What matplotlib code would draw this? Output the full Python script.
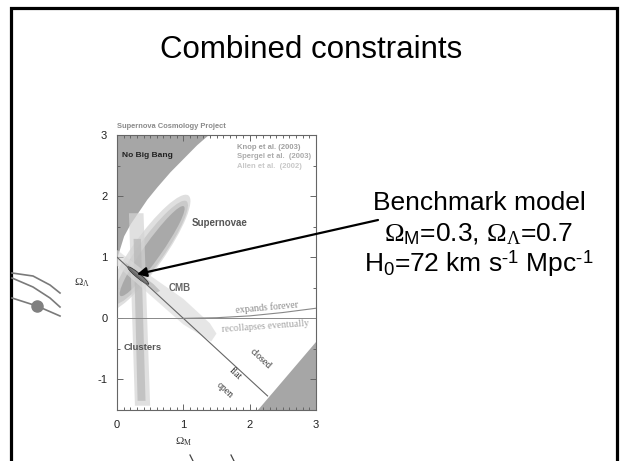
import matplotlib
matplotlib.use("Agg")
import matplotlib.pyplot as plt
from matplotlib.patches import Ellipse, Polygon
from matplotlib.ticker import MultipleLocator

plt.rcParams['font.family'] = ['Liberation Sans', 'DejaVu Sans']
plt.rcParams['mathtext.fontset'] = 'custom'
plt.rcParams['mathtext.rm'] = 'Liberation Serif'
plt.rcParams['mathtext.it'] = 'Liberation Serif:italic'
plt.rcParams['mathtext.sf'] = 'Liberation Sans'

# ---------------- data ----------------
x_ticks = [0, 1, 2, 3]
y_ticks = [-1, 0, 1, 2, 3]
y_tick_labels = ['-1', '0', '1', '2', '3']

# "No Big Bang" boundary
nbb_om = [0.0, 0.1, 0.2, 0.3, 0.45, 0.6, 0.8, 1.0, 1.2, 1.37]
nbb_ol = [1.0, 1.35, 1.55, 1.71, 1.95, 2.15, 2.4, 2.62, 2.84, 3.0]

# bottom-right shaded triangle
tri_om = [2.12, 3.0, 3.0]
tri_ol = [-1.5, -1.5, -0.38]

# flat universe line
flat_om = [0.0, 2.27]
flat_ol = [1.0, -1.27]

# expands forever / recollapses line
exp_om = [1.0, 1.5, 2.0, 2.5, 3.0]
exp_ol = [0.0, 0.01, 0.04, 0.095, 0.165]

# Supernovae confidence ellipses: (center_om, center_ol, length, width, angle, colour)
sn_ellipses = [
    (0.46, 1.07, 2.25, 0.50, 57, '#dcdcdc'),
    (0.50, 1.08, 2.00, 0.40, 57, '#c8c8c8'),
    (0.53, 1.10, 1.75, 0.27, 57, '#a6a6a6'),
]

# Clusters band
cl_outer_om = [0.18, 0.40, 0.50, 0.27]
cl_outer_ol = [1.72, 1.72, -1.43, -1.43]
cl_inner_om = [0.25, 0.36, 0.43, 0.31]
cl_inner_ol = [1.30, 1.30, -1.35, -1.35]

# CMB band
cmb_om = [0.0, 0.5, 1.0, 1.4, 1.5, 1.42, 1.0, 0.5, 0.0]
cmb_ol = [1.12, 0.70, 0.32, -0.08, -0.25, -0.38, -0.10, 0.38, 0.86]
cmb_in_om = [0.12, 0.55, 0.65, 0.60, 0.18]
cmb_in_ol = [0.92, 0.56, 0.45, 0.42, 0.80]

# Combined constraint
comb = (0.32, 0.70, 0.42, 0.07, -42)

# benchmark model (arrow target)
bench_om = 0.3
bench_ol = 0.72

# decorations of the slide (pixel coordinates)
border_x = [11, 11, 617, 617]
border_y = [461, 8, 8, 461]
deco_lines = [
    ([12, 33, 50, 60], [273, 276, 285, 293]),
    ([12, 33, 50, 60], [278, 287, 298, 307]),
    ([12, 37, 60], [298, 306, 316]),
]
deco_dot = (37, 306)
deco_marks = [([190, 193], [455, 461]), ([231, 234], [455, 461])]

# ---------------- figure ----------------
W, H = 623, 461
fig = plt.figure(figsize=(W / 100, H / 100), dpi=100)

# overlay in pixel coordinates for the slide
ov = fig.add_axes([0, 0, 1, 1])
ov.set_xlim(0, W)
ov.set_ylim(H, 0)
ov.axis('off')
ov.plot(border_x, border_y, color='black', lw=2.3, solid_joinstyle='miter')
for xs, ys in deco_lines:
    ov.plot(xs, ys, color='#7a7a7a', lw=1.2)
ov.plot([deco_dot[0]], [deco_dot[1]], 'o', color='#808080', ms=8)
for xs, ys in deco_marks:
    ov.plot(xs, ys, color='#444444', lw=0.9)

fig.text(311 / W, 1 - 58 / H, 'Combined constraints', ha='center', va='baseline',
         fontsize=22.5, color='black')

# inner chart
ax = fig.add_axes([117 / W, (H - 410) / H, 199 / W, 275 / H])
ax.set_xlim(0, 3)
ax.set_ylim(-1.5, 3)

ax.fill_between(nbb_om, nbb_ol, 3, color='#a6a6a6', lw=0, zorder=1)
ax.fill(tri_om, tri_ol, color='#a6a6a6', lw=0, zorder=1)

for cx, cy, L, Wd, ang, col in sn_ellipses:
    ax.add_patch(Ellipse((cx, cy), L, Wd, angle=ang, facecolor=col, edgecolor='none',
                         alpha=0.9, zorder=2))
ax.add_patch(Polygon(list(zip(cl_outer_om, cl_outer_ol)), closed=True,
                     facecolor='#d4d4d4', edgecolor='none', alpha=0.7, zorder=3))
ax.add_patch(Polygon(list(zip(cl_inner_om, cl_inner_ol)), closed=True,
                     facecolor='#b8b8b8', edgecolor='none', alpha=0.7, zorder=3))
ax.add_patch(Polygon(list(zip(cmb_om, cmb_ol)), closed=True,
                     facecolor='#dadada', edgecolor='none', alpha=0.65, zorder=4))
ax.add_patch(Polygon(list(zip(cmb_in_om, cmb_in_ol)), closed=True,
                     facecolor='#b8b8b8', edgecolor='none', alpha=0.75, zorder=4))
ax.add_patch(Ellipse((comb[0], comb[1]), comb[2], comb[3], angle=comb[4],
                     facecolor='#7a7a7a', edgecolor='#333333', lw=0.6, zorder=5))

ax.axhline(0, color='#888888', lw=0.7, zorder=5)
ax.plot(flat_om, flat_ol, color='#666666', lw=0.8, zorder=5)
ax.plot(exp_om, exp_ol, color='#888888', lw=0.8, zorder=5)

# labels inside the chart
ax.text(0.07, 2.66, 'No Big Bang', fontsize=6, fontweight='bold', color='#222222',
        va='center', ha='left', zorder=6)
ax.text(1.54, 1.56, 'Supernovae', fontsize=7, fontweight='bold', color='#555555',
        va='center', ha='center', zorder=6)
ax.text(0.94, 0.5, 'CMB', fontsize=7, fontweight='bold', color='#666666',
        va='center', ha='center', zorder=6)
ax.text(0.1, -0.48, 'Clusters', fontsize=6.8, fontweight='bold', color='#555555',
        va='center', ha='left', zorder=6)
ax.text(1.81, 2.79, 'Knop et al. (2003)', fontsize=5.5, fontweight='bold',
        color='#a0a0a0', va='center', ha='left', zorder=6)
ax.text(1.81, 2.64, 'Spergel et al.  (2003)', fontsize=5.5, fontweight='bold',
        color='#ababab', va='center', ha='left', zorder=6)
ax.text(1.81, 2.49, 'Allen et al.  (2002)', fontsize=5.5, fontweight='bold',
        color='#c8c8c8', va='center', ha='left', zorder=6)
ax.text(0.0, 3.08, 'Supernova Cosmology Project', fontsize=5.4, fontweight='bold',
        color='#8a8a8a', va='bottom', ha='left')

serif = ['Liberation Serif', 'DejaVu Serif']
ax.text(2.26, 0.18, 'expands forever', family=serif, fontsize=7, color='#888888',
        rotation=5, ha='center', va='center', zorder=6)
ax.text(2.23, -0.14, 'recollapses eventually', family=serif, fontsize=7, color='#a0a0a0',
        rotation=4, ha='center', va='center', zorder=6)
ax.text(2.16, -0.66, 'closed', family=serif, fontsize=7, color='#333333',
        rotation=-43, ha='center', va='center', zorder=6)
ax.text(1.78, -0.90, 'flat', family=serif, fontsize=7, color='#333333',
        rotation=-43, ha='center', va='center', zorder=6)
ax.text(1.63, -1.18, 'open', family=serif, fontsize=7, color='#333333',
        rotation=-43, ha='center', va='center', zorder=6)

# axes styling
ax.set_xticks(x_ticks)
ax.set_yticks(y_ticks)
ax.set_yticklabels(y_tick_labels)
ax.xaxis.set_minor_locator(MultipleLocator(0.1))
ax.yaxis.set_minor_locator(MultipleLocator(0.5))
ax.tick_params(which='both', direction='in', top=True, right=True, color='#666666',
               labelsize=8, labelcolor='#222222', width=0.7)
ax.tick_params(which='major', length=4, pad=7)
ax.tick_params(which='minor', length=2.5)
for sp in ax.spines.values():
    sp.set_color('#666666')
    sp.set_linewidth(0.8)

ax.text(1.0, -2.02, r'$\Omega_\mathrm{M}$', fontsize=8, color='#333333',
        ha='center', va='center')
ax.text(-0.53, 0.59, r'$\Omega_\Lambda$', fontsize=8, color='#333333',
        ha='center', va='center')

# right-hand annotation
tx = 479 / W
fig.text(tx, 1 - 210 / H, 'Benchmark model', ha='center', va='baseline', fontsize=19)
fig.text(tx, 1 - 241 / H, r'$\Omega_\mathsf{M}$=0.3, $\Omega_\Lambda$=0.7',
         ha='center', va='baseline', fontsize=19)
fig.text(tx, 1 - 272 / H, r'H$_\mathsf{0}$=72 km s$^{\text{-}\mathsf{1}}$ Mpc$^{\text{-}\mathsf{1}}$',
         ha='center', va='baseline', fontsize=19)

ax.annotate('', xy=(bench_om, bench_ol), xycoords='data',
            xytext=(378 / W, 1 - 220 / H), textcoords='figure fraction',
            arrowprops=dict(arrowstyle='-|>', color='black', lw=1.6,
                            mutation_scale=14, shrinkA=0, shrinkB=0),
            annotation_clip=False, zorder=10)

fig.savefig('out.png', dpi=100)
